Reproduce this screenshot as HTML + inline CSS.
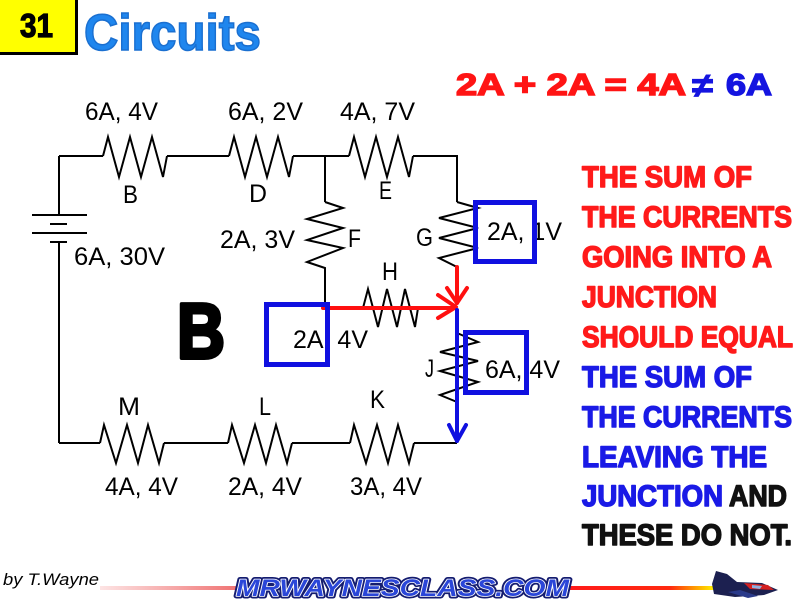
<!DOCTYPE html>
<html>
<head>
<meta charset="utf-8">
<style>
html,body{margin:0;padding:0;background:#fff;}
svg{display:block;}
</style>
</head>
<body>
<svg width="800" height="600" viewBox="0 0 800 600" xmlns="http://www.w3.org/2000/svg">
<defs>
<linearGradient id="pk" x1="0" x2="1" y1="0" y2="0">
<stop offset="0" stop-color="#fde4e4"/>
<stop offset="1" stop-color="#f07474"/>
</linearGradient>
<linearGradient id="ry" x1="0" x2="1" y1="0" y2="0">
<stop offset="0" stop-color="#ff1a1a"/>
<stop offset="0.7" stop-color="#ff2a10"/>
<stop offset="0.9" stop-color="#ffb000"/>
<stop offset="1" stop-color="#fff000"/>
</linearGradient>
</defs>
<rect width="800" height="600" fill="#fff"/>

<!-- Header -->
<rect x="0" y="0" width="76" height="52" fill="#ffff00"/>
<path d="M76.5,0 V53.5 H0" fill="none" stroke="#000" stroke-width="3"/>
<text x="20" y="37" font-family="Liberation Sans, sans-serif" font-weight="bold" font-size="33" fill="#000" stroke="#000" stroke-width="1.2" textLength="33" lengthAdjust="spacingAndGlyphs">31</text>
<text x="84" y="50" font-family="Liberation Sans, sans-serif" font-weight="bold" font-size="51" fill="#1f86ee" stroke="#1a6fd0" stroke-width="1.5" textLength="177" lengthAdjust="spacingAndGlyphs">Circuits</text>

<!-- Equation -->
<g font-family="Liberation Sans, sans-serif" font-weight="bold" font-size="31">
<text x="456" y="95" fill="#ff1414" stroke="#ff1414" stroke-width="1.5" textLength="230" lengthAdjust="spacingAndGlyphs">2A + 2A = 4A</text>
<text x="692" y="97" fill="#1414e0" stroke="#1414e0" stroke-width="1" font-size="34" textLength="21" lengthAdjust="spacingAndGlyphs">≠</text>
<text x="726" y="95" fill="#1414e0" stroke="#1414e0" stroke-width="1.5" textLength="46" lengthAdjust="spacingAndGlyphs">6A</text>
</g>

<!-- Circuit wires -->
<g fill="none" stroke="#000" stroke-width="2" stroke-linejoin="miter">
<!-- top wire -->
<path d="M59,156 H103 M167,156 H229 M293,156 H349 M413,156 H458"/>
<!-- left & right verticals -->
<path d="M59,156 V215 M59,242 V443"/>
<path d="M457,156 V202"/>
<!-- bottom wire -->
<path d="M59,443 H100 M164,443 H228 M292,443 H350 M414,443 H457"/>
<!-- battery -->
<path d="M32,215 H87 M50,224 H67 M32,233 H87 M50,242 H67"/>
<!-- B D E -->
<polyline points="103,156 108,137 119,177 130,137 141,177 152,137 163,177 167,156"/>
<polyline points="229,156 234,137 245,177 256,137 267,177 278,137 289,177 293,156"/>
<polyline points="349,156 354,137 365,177 376,137 387,177 398,137 409,177 413,156"/>
<!-- M L K -->
<polyline points="100,443 104,425 116,463 127,425 138,463 148,425 159,463 164,443"/>
<polyline points="228,443 232,425 244,463 255,425 266,463 276,425 287,463 292,443"/>
<polyline points="350,443 354,425 366,463 377,425 388,463 398,425 409,463 414,443"/>
<!-- F -->
<path d="M325,156 V202"/>
<polyline points="325,202 343,208 307,219 343,228 307,240 343,248 307,262 325,268 325,308"/>
<!-- G -->
<polyline points="457,202 478,208 439,218 478,228 439,238 478,248 439,258 457,267"/>
<!-- H -->
<polyline points="363,308 368,289 378,327 387,289 397,327 405,289 415,327 418,308"/>
<!-- J -->
<polyline points="457,333 478,342 440,352 478,361 440,371 478,382 440,395 457,402"/>
</g>

<!-- Red arrows -->
<g fill="none" stroke="#ff1010" stroke-width="4" stroke-linecap="round" stroke-linejoin="round">
<path d="M323,308 H455"/>
<path d="M438,295 L456,307 L438,318"/>
<path d="M457,267 V303"/>
<path d="M447,288 L457,303 L467,288"/>
</g>

<!-- Blue arrow -->
<g fill="none" stroke="#1010e0" stroke-width="4" stroke-linecap="round" stroke-linejoin="round">
<path d="M457,310 V441"/>
<path d="M449,425 L457,441 L466,425"/>
</g>

<!-- Labels -->
<g font-family="Liberation Sans, sans-serif" font-size="25" fill="#000">
<text x="85" y="120" textLength="73" lengthAdjust="spacingAndGlyphs">6A, 4V</text>
<text x="228" y="120" textLength="75" lengthAdjust="spacingAndGlyphs">6A, 2V</text>
<text x="340" y="120" textLength="75" lengthAdjust="spacingAndGlyphs">4A, 7V</text>
<text x="123" y="203" textLength="15" lengthAdjust="spacingAndGlyphs">B</text>
<text x="249" y="202" textLength="18" lengthAdjust="spacingAndGlyphs">D</text>
<text x="379" y="199" textLength="13" lengthAdjust="spacingAndGlyphs">E</text>
<text x="348" y="247" textLength="13" lengthAdjust="spacingAndGlyphs">F</text>
<text x="416" y="246" textLength="17" lengthAdjust="spacingAndGlyphs">G</text>
<text x="220" y="248" textLength="75" lengthAdjust="spacingAndGlyphs">2A, 3V</text>
<text x="74" y="265" textLength="91" lengthAdjust="spacingAndGlyphs">6A, 30V</text>
<text x="487" y="240" textLength="75" lengthAdjust="spacingAndGlyphs">2A, 1V</text>
<text x="382" y="280" textLength="16" lengthAdjust="spacingAndGlyphs">H</text>
<text x="293" y="348" textLength="75" lengthAdjust="spacingAndGlyphs">2A, 4V</text>
<text x="485" y="378" textLength="75" lengthAdjust="spacingAndGlyphs">6A, 4V</text>
<text x="425" y="377" textLength="9" lengthAdjust="spacingAndGlyphs">J</text>
<text x="370" y="408" textLength="15" lengthAdjust="spacingAndGlyphs">K</text>
<text x="259" y="415" textLength="12" lengthAdjust="spacingAndGlyphs">L</text>
<text x="118" y="415" textLength="22" lengthAdjust="spacingAndGlyphs">M</text>
<text x="105" y="495" textLength="73" lengthAdjust="spacingAndGlyphs">4A, 4V</text>
<text x="228" y="495" textLength="74" lengthAdjust="spacingAndGlyphs">2A, 4V</text>
<text x="350" y="495" textLength="72" lengthAdjust="spacingAndGlyphs">3A, 4V</text>
</g>

<!-- Blue boxes -->
<g fill="none" stroke="#1010e0" stroke-width="5">
<rect x="266.5" y="304.5" width="61" height="60"/>
<rect x="475.5" y="202.5" width="59" height="59"/>
<rect x="465.5" y="332.5" width="61" height="60"/>
</g>

<!-- Big B -->
<text x="177" y="358" font-family="Liberation Sans, sans-serif" font-weight="bold" font-size="78" fill="#000" stroke="#000" stroke-width="4" stroke-linejoin="round" textLength="48" lengthAdjust="spacingAndGlyphs">B</text>

<!-- Paragraph -->
<g font-family="Liberation Sans, sans-serif" font-weight="bold" font-size="30" stroke-width="1.5" stroke-linejoin="round">
<text x="582" y="187" fill="#ff1a1a" stroke="#ff1a1a" textLength="170" lengthAdjust="spacingAndGlyphs">THE SUM OF</text>
<text x="582" y="227" fill="#ff1a1a" stroke="#ff1a1a" textLength="210" lengthAdjust="spacingAndGlyphs">THE CURRENTS</text>
<text x="582" y="267" fill="#ff1a1a" stroke="#ff1a1a" textLength="190" lengthAdjust="spacingAndGlyphs">GOING INTO A</text>
<text x="582" y="307" fill="#ff1a1a" stroke="#ff1a1a" textLength="135" lengthAdjust="spacingAndGlyphs">JUNCTION</text>
<text x="582" y="347" fill="#ff1a1a" stroke="#ff1a1a" textLength="211" lengthAdjust="spacingAndGlyphs">SHOULD EQUAL</text>
<text x="582" y="387" fill="#1a1ae6" stroke="#1a1ae6" textLength="170" lengthAdjust="spacingAndGlyphs">THE SUM OF</text>
<text x="582" y="427" fill="#1a1ae6" stroke="#1a1ae6" textLength="210" lengthAdjust="spacingAndGlyphs">THE CURRENTS</text>
<text x="582" y="467" fill="#1a1ae6" stroke="#1a1ae6" textLength="185" lengthAdjust="spacingAndGlyphs">LEAVING THE</text>
<text x="582" y="506" fill="#1a1ae6" stroke="#1a1ae6" textLength="141" lengthAdjust="spacingAndGlyphs">JUNCTION</text>
<text x="729" y="506" fill="#111" stroke="#111" textLength="58" lengthAdjust="spacingAndGlyphs">AND</text>
<text x="582" y="545" fill="#111" stroke="#111" textLength="210" lengthAdjust="spacingAndGlyphs">THESE DO NOT.</text>
</g>

<!-- Footer -->
<text x="3" y="585" font-family="Liberation Sans, sans-serif" font-style="italic" font-size="17" fill="#000" textLength="96" lengthAdjust="spacingAndGlyphs">by T.Wayne</text>
<rect x="100" y="586" width="136" height="4" fill="url(#pk)"/>
<rect x="568" y="586" width="146" height="4" fill="url(#ry)"/>
<text x="236" y="596" font-family="Liberation Sans, sans-serif" font-weight="bold" font-style="italic" font-size="24" fill="none" stroke="#141c70" stroke-width="5" stroke-linejoin="round" textLength="333" lengthAdjust="spacingAndGlyphs">MRWAYNESCLASS.COM</text>
<text x="236" y="596" font-family="Liberation Sans, sans-serif" font-weight="bold" font-style="italic" font-size="24" fill="#2a46d8" stroke="#fff" stroke-width="1.6" paint-order="stroke" stroke-linejoin="round" textLength="333" lengthAdjust="spacingAndGlyphs">MRWAYNESCLASS.COM</text>

<!-- Jet -->
<g>
<path d="M712,584 L716,571 L727,574 L737,582 L762,583 L778,590 L764,595 L735,597 L714,594 Z" fill="#1c2050"/>
<path d="M744,583 L768,585 L774,590 L750,589 Z" fill="#d42020"/>
<path d="M728,592 L748,598 L758,596 L740,590 Z" fill="#2a3a8a"/>
<path d="M752,585 L762,586 L760,589 L752,588 Z" fill="#8fb0e0"/>
</g>
</svg>
</body>
</html>
